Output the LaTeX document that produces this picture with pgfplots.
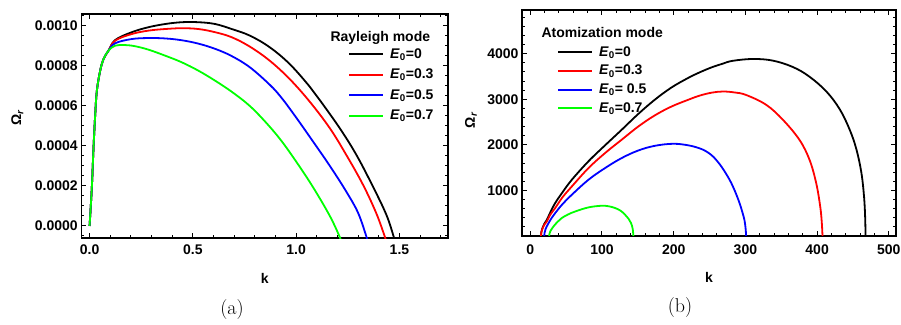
\documentclass[border=0pt]{standalone}
\usepackage{fontspec}
\usepackage{pgfplots}
\pgfplotsset{compat=1.18}
\newfontfamily\arialb{Liberation Sans}
\newcommand\axfont{\arialb\bfseries\fontsize{14}{16}\selectfont}
\definecolor{mred}{rgb}{1,0,0}
\definecolor{mblue}{rgb}{0,0,1}
\definecolor{mgreen}{rgb}{0,1,0}
\pgfplotsset{
  mystyle/.style={
    scale only axis,
    axis line style={line width=1.6pt},
    tick align=inside,
    major tick length=5pt,
    minor tick length=3pt,
    every tick/.style={black, line width=1pt},
    tick label style={font=\axfont},
    /pgf/number format/assume math mode=true,
    /pgf/number format/1000 sep={},
    label style={font=\axfont},
    legend cell align=left,
    legend image code/.code={\draw[##1, line width=2pt] (0pt,0pt) -- (34pt,0pt);},
  },
  crv/.style={line width=1.8pt, smooth, tension=0.6},
}
\begin{document}
\begin{tikzpicture}[x=1pt,y=1pt]
\useasboundingbox (0,0) rectangle (901,324);
\fill[white] (0,0) rectangle (901,324);
% ---------------- (a) Rayleigh mode ----------------
\begin{axis}[mystyle,
  at={(81.3pt,86pt)}, anchor=south west,
  width=366.7pt, height=224pt,
  xmin=-0.04, xmax=1.735, ymin=-0.00006, ymax=0.001058,
  xtick={0,0.5,1,1.5},
  minor xtick={0,0.1,...,1.7},
  ytick={0,0.0002,0.0004,0.0006,0.0008,0.001},
  minor ytick={-0.00005,0,0.00005,0.0001,0.00015,0.0002,0.00025,0.0003,0.00035,0.0004,0.00045,0.0005,0.00055,0.0006,0.00065,0.0007,0.00075,0.0008,0.00085,0.0009,0.00095,0.001,0.00105},
  scaled y ticks=false, scaled x ticks=false,
  xticklabel style={yshift=-3pt, /pgf/number format/.cd, fixed, fixed zerofill, precision=1},
  yticklabel style={/pgf/number format/.cd, fixed, fixed zerofill, precision=4},
  xlabel={k},
  ylabel={Ω\textsubscript{\textit{r}}},
  xlabel style={at={(axis description cs:0.5,-0.1786)}, anchor=center},
  ylabel style={at={(axis description cs:-0.1745,0.536)}, anchor=center},
  legend style={draw=none, fill=none, inner sep=0pt, at={(0.7273,0.8527)}, anchor=north west,
    row sep=6.5pt, column sep=6pt, nodes={inner sep=0pt, text height=11pt, text depth=3pt, font=\axfont}},
]
\addplot[crv, black] coordinates {(0,0) (0.011,1.92e-4) (0.0192,3.92e-4) (0.0275,5.58e-4) (0.0353,6.75e-4) (0.0514,7.75e-4) (0.0675,8.33e-4) (0.0917,8.75e-4)
 (0.124,9.28e-4) (0.204,9.67e-4) (0.285,9.92e-4) (0.366,10.08e-4) (0.446,10.17e-4) (0.527,10.17e-4) (0.608,10.08e-4) (0.688,9.83e-4) (0.776,9.5e-4) (0.872,8.92e-4) (0.969,8.08e-4) (1.066,6.95e-4) (1.114,6.29e-4) (1.211,4.88e-4) (1.292,3.54e-4) (1.372,1.96e-4) (1.437,0.55e-4) (1.472,-0.53e-4) (1.476,-0.7e-4)};
\addlegendentry{\textit{E}\textsubscript{0}=0}
\addplot[crv, mred] coordinates {(0,0) (0.011,1.92e-4) (0.0192,3.92e-4) (0.0275,5.58e-4) (0.0353,6.75e-4) (0.0514,7.75e-4) (0.0675,8.33e-4) (0.0917,8.75e-4)
 (0.124,9.25e-4) (0.204,9.58e-4) (0.285,9.75e-4) (0.366,9.83e-4) (0.446,9.87e-4) (0.527,9.83e-4) (0.608,9.67e-4) (0.688,9.42e-4) (0.776,8.95e-4) (0.872,8.25e-4) (0.969,7.33e-4) (1.066,6.2e-4) (1.163,4.88e-4) (1.243,3.54e-4) (1.324,2.05e-4) (1.388,0.63e-4) (1.429,-0.53e-4) (1.433,-0.7e-4)};
\addlegendentry{\textit{E}\textsubscript{0}=0.3}
\addplot[crv, mblue] coordinates {(0,0) (0.011,1.92e-4) (0.0192,3.92e-4) (0.0275,5.58e-4) (0.0353,6.75e-4) (0.0514,7.75e-4) (0.0675,8.33e-4) (0.0917,8.75e-4)
 (0.124,9.12e-4) (0.204,9.33e-4) (0.285,9.38e-4) (0.366,9.36e-4) (0.446,9.27e-4) (0.527,9.1e-4) (0.608,8.84e-4) (0.688,8.48e-4) (0.776,7.92e-4) (0.872,7.05e-4) (0.929,6.4e-4) (1.001,5.4e-4) (1.082,4.21e-4) (1.163,3.0e-4) (1.243,1.71e-4) (1.300,0.65e-4) (1.340,-0.53e-4) (1.344,-0.7e-4)};
\addlegendentry{\textit{E}\textsubscript{0}=0.5}
\addplot[crv, mgreen] coordinates {(0,0) (0.011,1.92e-4) (0.0192,3.92e-4) (0.0275,5.58e-4) (0.0353,6.75e-4) (0.0514,7.75e-4) (0.0675,8.33e-4) (0.0917,8.75e-4)
 (0.124,9.0e-4) (0.172,9.03e-4) (0.221,8.97e-4) (0.285,8.8e-4) (0.366,8.5e-4) (0.446,8.17e-4) (0.527,7.75e-4) (0.608,7.25e-4) (0.688,6.7e-4) (0.769,6.05e-4) (0.840,5.32e-4) (0.921,4.35e-4) (1.001,3.2e-4) (1.082,1.93e-4) (1.163,0.5e-4) (1.211,-0.55e-4) (1.215,-0.7e-4)};
\addlegendentry{\textit{E}\textsubscript{0}=0.7}
\node[font=\axfont, anchor=base west] at (rel axis cs:0.670,0.879) {Rayleigh mode};
\end{axis}
% ---------------- (b) Atomization mode ----------------
\begin{axis}[mystyle,
  at={(522pt,88pt)}, anchor=south west,
  width=374pt, height=226pt,
  xmin=-11.5, xmax=510, ymin=0, ymax=4960,
  xtick={0,100,200,300,400,500},
  minor xtick={0,20,...,500},
  ytick={1000,2000,3000,4000},
  minor ytick={0,200,...,4800},
  xticklabel style={yshift=-5pt},
  xlabel={k},
  ylabel={Ω\textsubscript{\textit{r}}},
  xlabel style={at={(axis description cs:0.5,-0.1814)}, anchor=center},
  ylabel style={at={(axis description cs:-0.1364,0.513)}, anchor=center},
  legend style={draw=none, fill=none, inner sep=0pt, at={(0.0936,0.845)}, anchor=north west,
    row sep=4.7pt, column sep=6pt, nodes={inner sep=0pt, text height=11pt, text depth=3pt, font=\axfont}},
]
\addplot[crv, black] coordinates {(15,0) (15.5,90) (17,175) (19.5,265) (23.2,357) (28,520) (34.8,724) (45,960) (58,1235) (81.2,1640) (104.3,1990) (127.4,2330) (150.7,2680) (174,2995) (197,3260) (220.3,3470) (236,3590) (252.7,3700) (268,3780) (282.4,3845) (310.3,3885) (338,3850) (366,3710) (389,3500) (413,3170) (431.6,2780) (445.5,2330) (454.8,1900) (461.8,1380) (465.5,850) (467,400) (467.5,0)};
\addlegendentry{\textit{E}\textsubscript{0}=0}
\addplot[crv, mred] coordinates {(15,0) (15.5,80) (17,160) (19.5,245) (23.2,320) (28,470) (34.8,614) (45,850) (58,1088) (81.2,1491) (104.3,1820) (127.4,2112) (150.7,2404) (174,2650) (197,2842) (220.3,2990) (236,3080) (252.7,3145) (268.6,3171) (285,3150) (301,3095) (329,2879) (352.3,2550) (375.3,2112) (389.4,1673) (398.7,1162) (404.3,649) (406.5,300) (407.5,0)};
\addlegendentry{\textit{E}\textsubscript{0}=0.3}
\addplot[crv, mblue] coordinates {(19.5,0) (20,70) (21.5,160) (25.6,285) (30,400) (34.8,504) (45,700) (58,906) (81.2,1235) (104.3,1491) (127.4,1710) (150.7,1877) (174,1980) (199.4,2024) (220.3,1990) (236,1925) (245,1860) (252.7,1775) (259.3,1670) (268,1490) (277.9,1235) (285,1000) (291.8,724) (296,510) (298.8,340) (300.3,160) (301,0)};
\addlegendentry{\textit{E}\textsubscript{0}= 0.5}
\addplot[crv, mgreen] coordinates {(26.4,0) (27,60) (28.5,120) (32.5,211) (38,310) (44,395) (53,475) (63,540) (81.2,628) (99.7,664) (110,650) (118.3,614) (126,555) (132.2,467) (137,380) (140.5,285) (142.8,160) (143.8,0)};
\addlegendentry{\textit{E}\textsubscript{0}=0.7}
\node[font=\axfont, anchor=base west] at (rel axis cs:0.0428,0.8805) {Atomization mode};
\end{axis}
\node[font=\fontsize{20}{22}\selectfont] at (232,14) {(a)};
\node[font=\fontsize{20}{22}\selectfont] at (680,16) {(b)};
\end{tikzpicture}
\end{document}
